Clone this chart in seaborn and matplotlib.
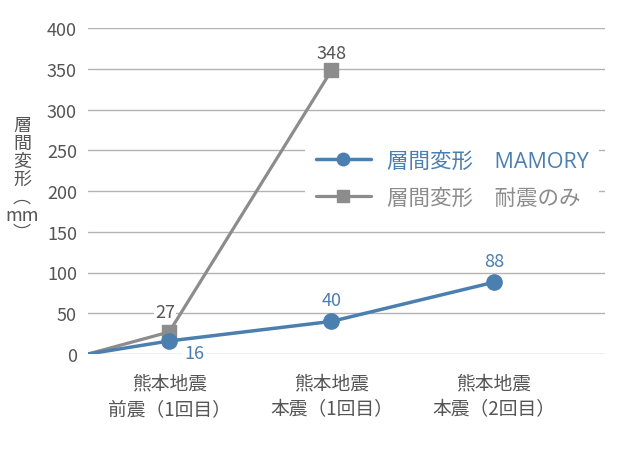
import numpy as np
import pandas as pd
import matplotlib
matplotlib.use("Agg")
import matplotlib.pyplot as plt
import seaborn as sns
from matplotlib.lines import Line2D

# ---- data ----
categories = ["熊本地震\n前震（1回目）", "熊本地震\n本震（1回目）", "熊本地震\n本震（2回目）"]
mamory = [16, 40, 88]
taishin = [27, 348]
origin_value = 0
yticks = [0, 50, 100, 150, 200, 250, 300, 350, 400]
label_mamory = "層間変形\u3000MAMORY"
label_taishin = "層間変形\u3000耐震のみ"
ylabel_chars = ["層", "間", "変", "形", "︵", "mm", "︶"]

BLUE = "#4b7fb0"
GRAY = "#8c8c8c"
TXT = "#555555"

sns.set_theme(style="white")
plt.rcParams['font.family'] = ['Noto Sans CJK JP', 'DejaVu Sans']

cat_x = np.arange(len(categories))
origin_x = -0.5

rows = []
rows.append((origin_x, origin_value, label_mamory))
for x, v in zip(cat_x, mamory):
    rows.append((x, v, label_mamory))
rows.append((origin_x, origin_value, label_taishin))
for x, v in zip(cat_x, taishin):
    rows.append((x, v, label_taishin))
df = pd.DataFrame(rows, columns=["x", "y", "series"])

fig = plt.figure(figsize=(6.36, 4.6), dpi=100)
ax = fig.add_axes([88/636, 1-355/460, (605-88)/636, (355-29)/460])

sns.lineplot(data=df[df.series == label_taishin], x="x", y="y", color=GRAY,
             linewidth=2.3, ax=ax, zorder=3, legend=False)
sns.lineplot(data=df[df.series == label_mamory], x="x", y="y", color=BLUE,
             linewidth=2.5, ax=ax, zorder=4, legend=False)
# markers (not at origin)
ax.plot(cat_x[:len(taishin)], taishin, linestyle="none", marker="s", markersize=9.5,
        color=GRAY, zorder=3, clip_on=False)
ax.plot(cat_x, mamory, linestyle="none", marker="o", markersize=11,
        color=BLUE, zorder=4, clip_on=False)

ax.set_xlim(origin_x, 2.685)
ax.set_ylim(0, 400)
ax.set_yticks(yticks)
ax.set_xticks(cat_x)
ax.set_xticklabels(categories, fontsize=13.5, color=TXT, linespacing=1.3)
ax.tick_params(axis="y", labelsize=13, labelcolor=TXT, length=0, pad=8)
ax.tick_params(axis="x", length=0, pad=13)
ax.yaxis.grid(True, color="#b3b3b3", linewidth=1.0)
ax.set_axisbelow(True)
for s in ax.spines.values():
    s.set_visible(False)
ax.set_xlabel("")
ax.set_ylabel("")

# vertical y label
fig.text(22/636, 1-180/460, "\n".join(ylabel_chars), fontsize=13, color=TXT,
         ha="center", va="center", linespacing=1.0)

# annotations
bb = dict(facecolor="white", edgecolor="none", pad=1)
ax.annotate(str(taishin[0]), (cat_x[0], taishin[0]), xytext=(-3, 8), textcoords="offset points",
            ha="center", va="bottom", fontsize=13, color=TXT, bbox=bb, zorder=2)
ax.annotate(str(taishin[1]), (cat_x[1], taishin[1]), xytext=(0, 6), textcoords="offset points",
            ha="center", va="bottom", fontsize=13, color=TXT, bbox=bb, zorder=2)
ax.annotate(str(mamory[0]), (cat_x[0], mamory[0]), xytext=(18, -2), textcoords="offset points",
            ha="center", va="top", fontsize=13, color=BLUE, bbox=bb, zorder=2)
for x, v in zip(cat_x[1:], mamory[1:]):
    ax.annotate(str(v), (x, v), xytext=(0, 9), textcoords="offset points",
                ha="center", va="bottom", fontsize=13, color=BLUE, zorder=5)

# legend
handles = [Line2D([], [], color=BLUE, linewidth=2.5, marker="o", markersize=9),
           Line2D([], [], color=GRAY, linewidth=2.3, marker="s", markersize=8)]
leg = ax.legend(handles, [label_mamory, label_taishin], loc="upper left",
                bbox_to_anchor=(305/636, 1-141/460), bbox_transform=fig.transFigure,
                frameon=True, facecolor="white", edgecolor="none", framealpha=1,
                prop={"family": ["Open Sans", "Noto Sans CJK JP"], "size": 15.5},
                handlelength=2.55, handletextpad=0.75, labelspacing=0.73,
                borderpad=0.5, borderaxespad=0, fancybox=False)
for t, c in zip(leg.get_texts(), [BLUE, GRAY]):
    t.set_color(c)
leg.set_zorder(6)

fig.savefig("out.png", dpi=100, facecolor="white")
